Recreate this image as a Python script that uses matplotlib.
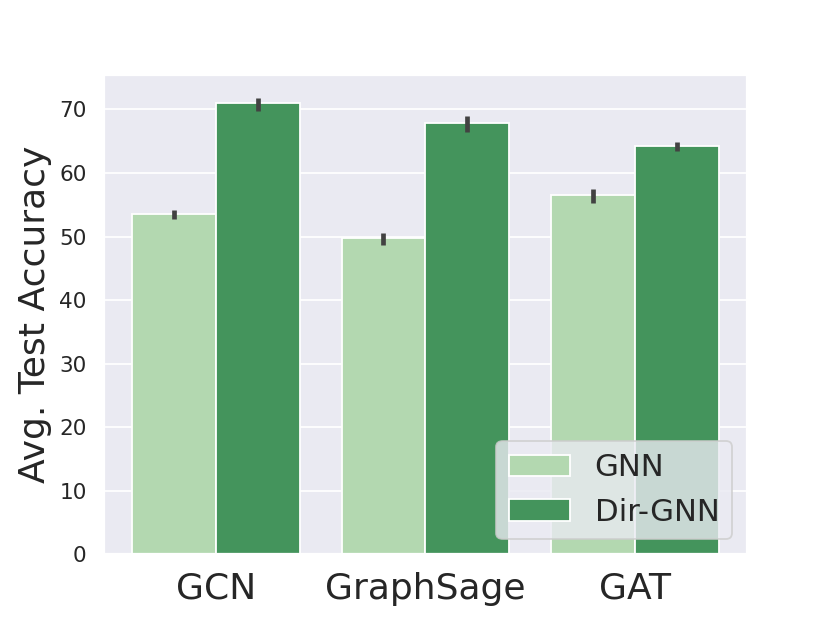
import matplotlib
matplotlib.use("Agg")
import matplotlib.pyplot as plt
import numpy as np
import seaborn as sns

models = ["GCN", "GraphSage", "GAT"]
series = ["GNN", "Dir-GNN"]
gnn_mean = [53.6, 49.7, 56.5]
gnn_low = [52.7, 48.7, 55.2]
gnn_high = [54.1, 50.5, 57.4]
dir_mean = [70.95, 67.9, 64.2]
dir_low = [69.7, 66.5, 63.4]
dir_high = [71.85, 69.0, 64.8]
colors = ["#b3d8b0", "#44945c"]

sns.set_theme(style="darkgrid")
plt.rcParams['font.family'] = ['DejaVu Sans']

fig, ax = plt.subplots(figsize=(830/130, 623/130), dpi=130)

x = np.arange(len(models))
w = 0.4
for i, (mean, lo, hi, name) in enumerate([(gnn_mean, gnn_low, gnn_high, series[0]),
                                          (dir_mean, dir_low, dir_high, series[1])]):
    mean = np.array(mean); lo = np.array(lo); hi = np.array(hi)
    pos = x + (i - 0.5) * w
    ax.bar(pos, mean, width=w, color=colors[i], edgecolor="white", linewidth=1.0,
           label=name, zorder=2)
    ax.errorbar(pos, mean, yerr=[mean - lo, hi - mean], fmt="none",
                ecolor="#424242", elinewidth=2.6, capsize=0, zorder=3)

ax.set_xticks(x)
ax.set_xticklabels(models, fontsize=20)
ax.tick_params(axis="y", labelsize=12)
ax.set_xlim(-0.535, 2.535)
ax.set_ylabel("Avg. Test Accuracy", fontsize=20)
ax.xaxis.grid(False)
ax.legend(loc="lower right", fontsize=17)

fig.savefig("out.png", dpi=130)
